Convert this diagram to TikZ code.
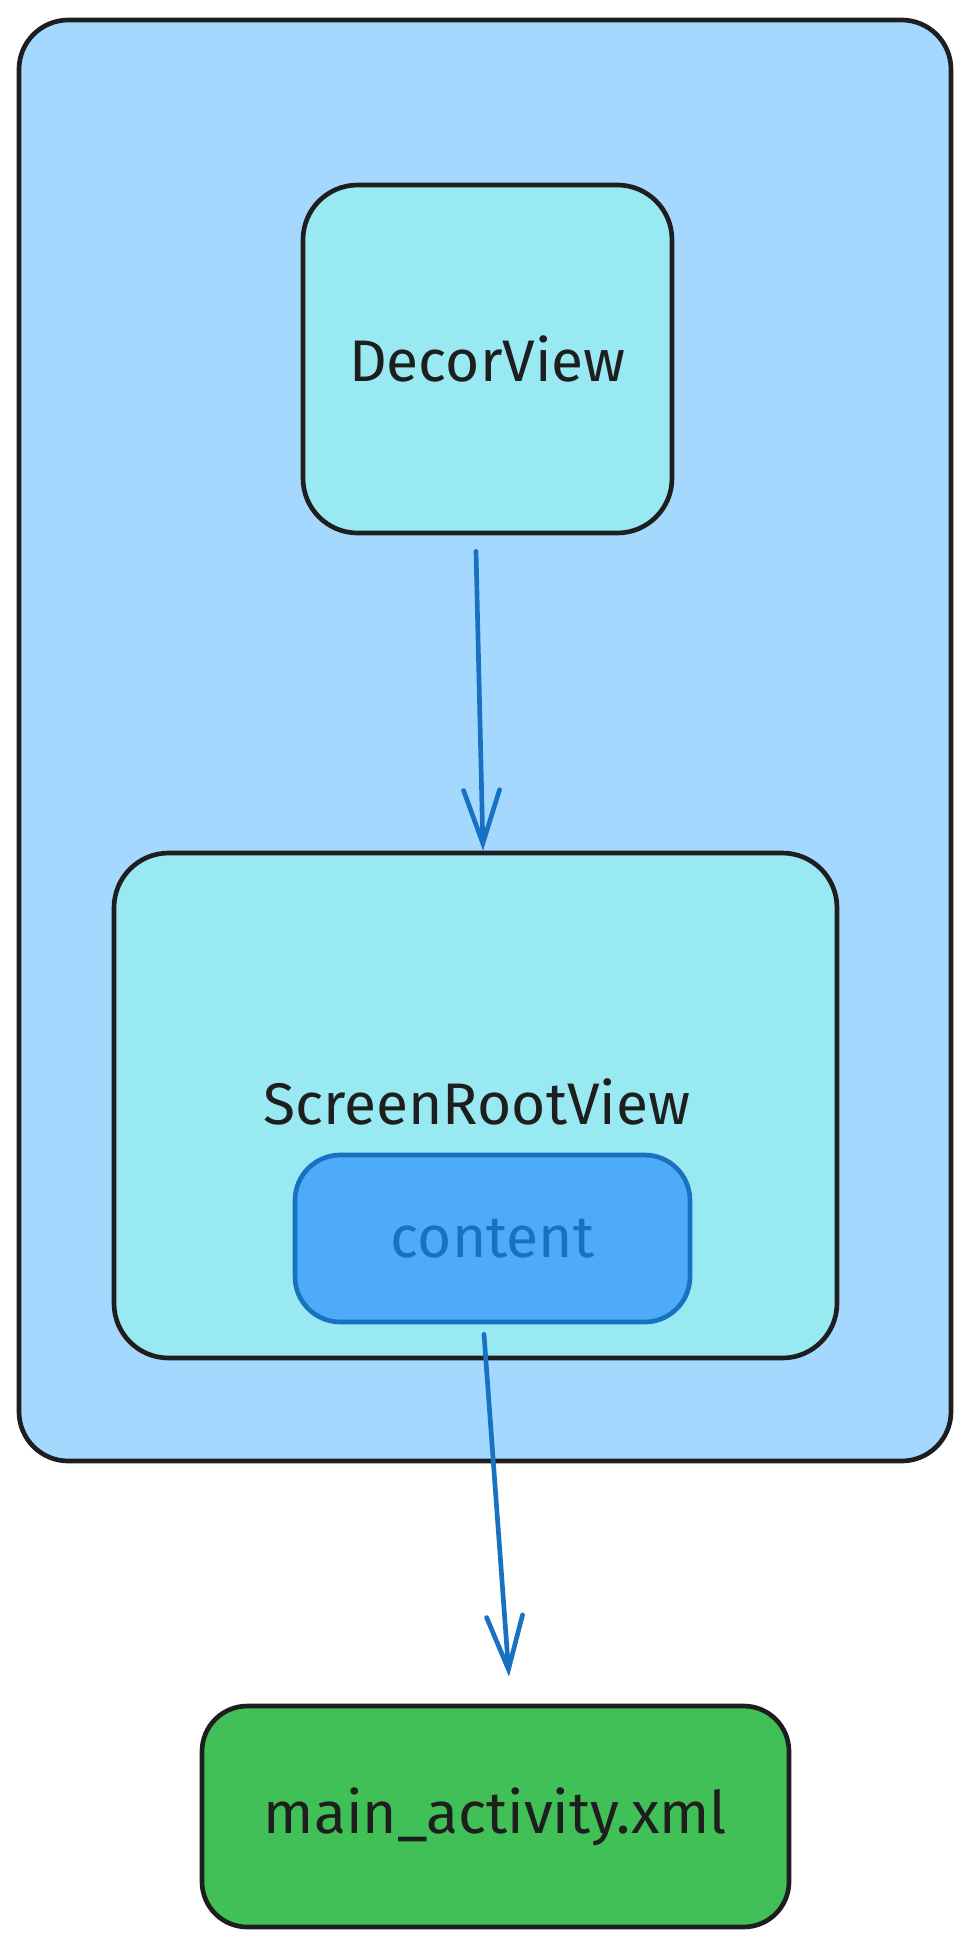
\documentclass[tikz,border=0pt]{standalone}
\usepackage{fontspec}
\setmainfont{Fira Sans}
\usetikzlibrary{arrows.meta,calc}
\definecolor{ink}{HTML}{1E1E1E}
\definecolor{outerfill}{HTML}{A5D8FF}
\definecolor{cyanfill}{HTML}{99E9F2}
\definecolor{bluefill}{HTML}{4DABF7}
\definecolor{bluestroke}{HTML}{1971C2}
\definecolor{greenfill}{HTML}{40C057}
\tikzset{
  box/.style={draw=ink, line width=3.5pt, rounded corners=#1, inner sep=0pt, font=\fontsize{44}{52}\selectfont, text=ink},
  box/.default=40pt,
  lbl/.style={inner sep=0pt, font=\fontsize{44}{52}\selectfont, text=ink},
  arr/.style={draw=bluestroke, line width=3.5pt, line cap=round,
    -{Straight Barb[length=40pt,width=27pt,line width=3.5pt,line cap=round]}},
}
\begin{document}
\begin{tikzpicture}[x=0.75pt,y=-0.75pt]
\useasboundingbox (0,0) rectangle (969,1943);
\fill[white] (0,0) rectangle (969,1943);
% outer container
\node[box=37pt, fill=outerfill, minimum width=932*0.75pt, minimum height=1441*0.75pt] (outer) at (485,740.5) {};
% DecorView
\node[box=41pt, fill=cyanfill, minimum width=369*0.75pt, minimum height=348*0.75pt] (decor) at (487.5,359) {DecorView};
% ScreenRootView
\node[box=41pt, fill=cyanfill, minimum width=723*0.75pt, minimum height=505*0.75pt] (srv) at (475.5,1105.5) {};
\node[lbl] (srvlabel) at (477,1102) {ScreenRootView};
% content
\node[box=34pt, draw=bluestroke, fill=bluefill, text=bluestroke, minimum width=395*0.75pt, minimum height=167*0.75pt] (content) at (492.5,1238.5) {content};
% main_activity.xml
\node[box=34pt, fill=greenfill, minimum width=587*0.75pt, minimum height=221*0.75pt] (main) at (495.5,1816.5) {main\_activity.xml};
% connectors
\draw[arr] ($(decor.south)+(-11.5,16)$) -- ($(srv.north)+(7.5,0)$);
\draw[arr] ($(content.south)+(-8.5,10)$) -- ($(main.north)+(13.5,-27)$);
\end{tikzpicture}
\end{document}
